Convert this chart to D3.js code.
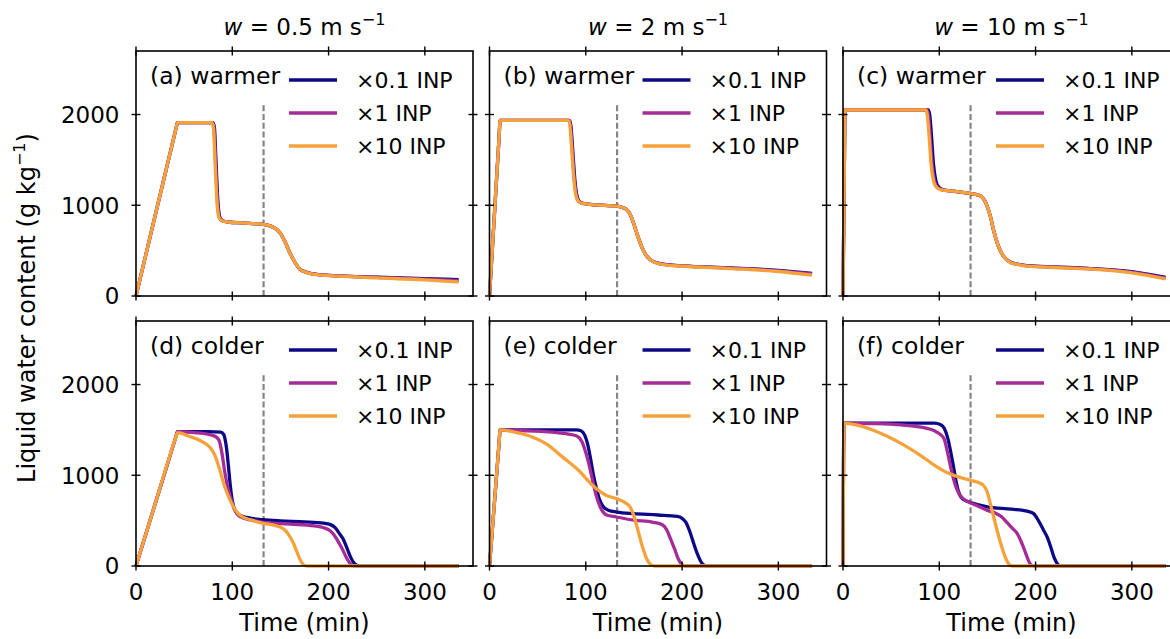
<!DOCTYPE html>
<html lang="en">
<head>
<title>Liquid water content vs time</title>
<meta charset="utf-8">
<script src="https://cdn.jsdelivr.net/npm/d3@7"></script>
<style type="text/css">
body {
	margin: 0;
	background: #fff;
	font-family: "DejaVu Sans", sans-serif;
}
</style>
</head>
<body>
<div id="vis"></div>
<script>

/* Data */
/* ==== */

var seriesNames = ['×0.1 INP', '×1 INP', '×10 INP'];
var seriesColors = ['#0d0887', '#a52c98', '#f6a23b'];
var columnSpeeds = ['0.5', '2', '10'];
var panelLabels = ['(a) warmer', '(b) warmer', '(c) warmer', '(d) colder', '(e) colder', '(f) colder'];
var xTicks = [0, 100, 200, 300];
var yTicks = [0, 1000, 2000];
var markerTime = 132.5;
var markerTop = 2120;

// (a) warmer, w = 0.5
var a01 = [[0,0],[20,890],[42,1866],[43,1910],[80,1910],[81.5,1850],[83,1500],[85,1050],[87,870],[90,830],[96,815],[110,805],[132,790],[140,770],[145,742],[150,690],[155,592],[160,472],[165,372],[170,298],[178,257],[190,235],[210,222],[250,208],[300,192],[335,180]];
var a1 = [[0,0],[20,890],[42,1866],[43,1910],[79.5,1910],[81,1850],[82.5,1500],[84.5,1050],[86.5,870],[89.5,830],[96,815],[110,805],[132,790],[140,770],[145,742],[150,690],[155,592],[160,472],[165,372],[170,298],[178,257],[190,235],[210,222],[250,206],[300,186],[335,170]];
var a10 = [[0,0],[20,890],[42,1866],[43,1910],[79,1910],[80.5,1850],[82,1500],[84,1050],[86,870],[89,830],[96,815],[110,805],[132,790],[140,770],[145,742],[150,690],[155,592],[160,472],[165,372],[170,298],[178,255],[190,232],[210,218],[250,200],[300,178],[335,155]];

// (b) warmer, w = 2
var b01 = [[0,0],[10,1760],[11,1935],[83,1935],[84.5,1880],[86.5,1600],[88.5,1300],[90.5,1120],[93,1045],[97,1020],[110,1005],[132,990],[138,975],[142,955],[146,900],[150,790],[154,660],[158,545],[162,460],[167,400],[175,362],[185,345],[200,333],[250,310],[300,282],[335,250]];
var b1 = [[0,0],[10,1760],[11,1935],[82.5,1935],[84,1880],[86,1600],[88,1300],[90,1120],[92.5,1045],[96.5,1020],[110,1005],[132,990],[138,975],[142,955],[146,900],[150,790],[154,660],[158,545],[162,460],[167,400],[175,360],[185,343],[200,331],[250,307],[300,278],[335,244]];
var b10 = [[0,0],[10,1760],[11,1935],[82,1935],[83.5,1880],[85.5,1600],[87.5,1300],[89.5,1120],[92,1045],[96,1020],[110,1005],[132,990],[138,975],[142,955],[146,900],[150,790],[154,660],[158,545],[162,460],[167,400],[175,358],[185,340],[200,328],[250,302],[300,270],[335,230]];

// (c) warmer, w = 10
var c01 = [[0,0],[1.5,1537],[2,2050],[88.5,2050],[90,2000],[92,1750],[94,1450],[96.5,1270],[99.5,1200],[104,1170],[115,1155],[132,1130],[140,1115],[145,1085],[149,1010],[153,880],[157,700],[161,560],[165,465],[174,372],[182,350],[191,335],[220,320],[254,305],[300,268],[335,205]];
var c1 = [[0,0],[1.5,1537],[2,2050],[87,2050],[88.5,2000],[90.5,1750],[92.5,1450],[95,1270],[98,1200],[103,1170],[115,1155],[132,1130],[140,1115],[145,1085],[149,1010],[153,880],[157,700],[161,560],[165,465],[174,370],[182,348],[191,333],[220,318],[254,303],[300,264],[335,198]];
var c10 = [[0,0],[1.5,1537],[2,2050],[86,2050],[87.5,2000],[89.5,1750],[91.5,1450],[94,1270],[97,1200],[102,1170],[115,1155],[132,1130],[140,1115],[145,1085],[149,1010],[153,880],[157,700],[161,560],[165,465],[174,368],[182,346],[191,330],[220,314],[254,298],[300,256],[335,188]];

// (d) colder, w = 0.5
var d01 = [[0,0],[20,688],[42,1445],[43,1480],[75,1480],[88,1475],[91,1450],[94,1300],[96,1100],[98,880],[100,720],[103,610],[107,565],[115,535],[132,510],[150,497],[175,487],[195,472],[202,456],[207,420],[211,362],[215,300],[219,200],[223,95],[227,25],[231,4],[235,0],[335,0]];
var d1 = [[0,0],[20,688],[42,1445],[43,1480],[60,1470],[75,1452],[82,1430],[86,1390],[89,1260],[92,1050],[95,880],[98,760],[102,630],[108,545],[120,505],[132,482],[160,462],[185,442],[195,422],[202,385],[207,322],[211,250],[215,170],[219,82],[223,20],[226,0],[335,0]];
var d10 = [[0,0],[20,688],[42,1440],[43,1470],[55,1430],[67,1380],[77,1305],[82,1220],[87,1060],[92,880],[98,720],[103,620],[108,560],[120,505],[132,470],[145,445],[153,410],[157,370],[160,320],[163.5,250],[167,160],[170,80],[173,25],[176,3],[178,0],[335,0]];

// (e) colder, w = 2
var e01 = [[0,0],[10,1364],[11,1500],[90,1500],[95,1490],[99,1440],[102,1340],[105,1180],[108,1000],[111,860],[114,740],[118,655],[124,612],[132,595],[150,577],[175,562],[195,546],[200,525],[204,480],[208,380],[212,250],[216,130],[220,40],[223,8],[226,0],[335,0]];
var e1 = [[0,0],[10,1364],[11,1500],[40,1490],[70,1470],[90,1435],[96,1370],[100,1250],[104,1090],[108,900],[111,770],[115,650],[121,565],[132,540],[150,505],[170,482],[180,452],[184,400],[188,300],[192.5,180],[196,80],[199.5,20],[203,0],[335,0]];
var e10 = [[0,0],[10,1364],[11,1500],[25,1478],[40,1438],[59,1345],[76,1200],[93,1050],[107,890],[121,780],[132,742],[142,690],[146,650],[149,580],[152.5,460],[156,320],[159.5,190],[163,85],[166.5,25],[170,3],[172,0],[335,0]];

// (f) colder, w = 10
var f01 = [[0,0],[1,1575],[95,1575],[101,1560],[105,1520],[109,1400],[112,1250],[115,1080],[118,900],[121,790],[125,732],[132,702],[150,652],[175,626],[192,602],[198,577],[203,500],[208,400],[212,320],[216,200],[219,100],[222,35],[225,5],[228,0],[335,0]];
var f1 = [[0,0],[1,1575],[30,1570],[60,1555],[85,1522],[95,1490],[101,1450],[105,1400],[108,1280],[111,1130],[114,990],[117,880],[121,790],[126,732],[132,700],[140,660],[150,613],[158,585],[165,540],[171,472],[176,415],[181,358],[185,270],[188,190],[191.5,90],[194,30],[197,3],[199,0],[335,0]];
var f10 = [[0,0],[1,1575],[15,1552],[30,1502],[46,1430],[62,1340],[80,1222],[95,1110],[108,1030],[120,982],[132,946],[140,922],[146,887],[150,810],[153,687],[156.5,540],[160,394],[163.5,260],[167,140],[170,60],[172.3,20],[175,2],[177,0],[335,0]];

var panelSeries = [
	[a01, a1, a10], [b01, b1, b10], [c01, c1, c10],
	[d01, d1, d10], [e01, e1, e10], [f01, f1, f10]
];


/* Globals and SVG */
/* =============== */

var width = 1170,
		height = 639;

var colX = [136, 489.5, 843],
		rowY = [51, 321],
		panelW = 337,
		panelH = 245,
		tickLen = 4.5;

var x = d3.scaleLinear().domain([0, 350]).range([0, panelW]);
var y = d3.scaleLinear().domain([0, 2700]).range([panelH, 0]);

var line = d3.line()
	.x(function(d) { return x(d[0]); })
	.y(function(d) { return y(d[1]); })
	.curve(d3.curveMonotoneX);

var svg = d3.select('#vis')
	.append('svg')
		.attr('width', width)
		.attr('height', height)
		.style('display', 'block');


/* Functions */
/* ========= */

function drawPanel(i) {

	var col = i % 3,
			row = Math.floor(i / 3);

	var g = svg.append('g')
		.attr('transform', 'translate(' + colX[col] + ', ' + rowY[row] + ')');

	// freezing marker
	g.append('line')
		.attr('x1', x(markerTime)).attr('x2', x(markerTime))
		.attr('y1', y(0)).attr('y2', y(markerTop))
		.attr('stroke', '#858585')
		.attr('stroke-width', 2.2)
		.attr('stroke-dasharray', '6,2.8');

	g.selectAll('.series')
		.data(panelSeries[i])
		.enter().append('path')
			.attr('class', 'series')
			.attr('d', line)
			.attr('fill', 'none')
			.attr('stroke', function(d, j) { return seriesColors[j]; })
			.attr('stroke-width', 3.3)
			.attr('stroke-linejoin', 'round');

	// frame
	g.append('rect')
		.attr('width', panelW).attr('height', panelH)
		.attr('fill', 'none')
		.attr('stroke', '#000')
		.attr('stroke-width', 1.6);

	// inout ticks on all four sides
	xTicks.forEach(function(t) {
		[0, panelH].forEach(function(yy) {
			g.append('line')
				.attr('x1', x(t)).attr('x2', x(t))
				.attr('y1', yy - tickLen).attr('y2', yy + tickLen)
				.attr('stroke', '#000').attr('stroke-width', 1.4);
		});
	});
	yTicks.forEach(function(t) {
		[0, panelW].forEach(function(xx) {
			g.append('line')
				.attr('x1', xx - tickLen).attr('x2', xx + tickLen)
				.attr('y1', y(t)).attr('y2', y(t))
				.attr('stroke', '#000').attr('stroke-width', 1.4);
		});
	});

	if (col === 0) {
		g.selectAll('.ytick')
			.data(yTicks)
			.enter().append('text')
				.attr('x', -16.5)
				.attr('y', function(d) { return y(d); })
				.attr('dy', '0.36em')
				.attr('text-anchor', 'end')
				.style('font-size', '23px')
				.text(function(d) { return d; });
	}

	if (row === 1) {
		g.selectAll('.xtick')
			.data(xTicks)
			.enter().append('text')
				.attr('x', function(d) { return x(d); })
				.attr('y', panelH + 34)
				.attr('text-anchor', 'middle')
				.style('font-size', '23px')
				.text(function(d) { return d; });

		g.append('text')
			.attr('x', panelW / 2)
			.attr('y', panelH + 65)
			.attr('text-anchor', 'middle')
			.style('font-size', '24px')
			.text('Time (min)');
	}

	g.append('text')
		.attr('x', 14)
		.attr('y', 32.5)
		.style('font-size', '23.5px')
		.text(panelLabels[i]);

	drawLegend(g);

} // drawPanel()

function drawLegend(g) {

	var items = g.selectAll('.legend')
		.data(seriesNames)
		.enter().append('g')
			.attr('transform', function(d, j) { return 'translate(0, ' + (29 + j * 33) + ')'; });

	items.append('line')
		.attr('x1', 153).attr('x2', 201)
		.attr('stroke', function(d, j) { return seriesColors[j]; })
		.attr('stroke-width', 3.6);

	items.append('text')
		.attr('x', 220)
		.attr('dy', '0.36em')
		.style('font-size', '22px')
		.text(function(d) { return d; });

} // drawLegend()

function drawTitles() {

	columnSpeeds.forEach(function(s, col) {

		var t = svg.append('text')
			.attr('x', colX[col] + panelW / 2)
			.attr('y', 35)
			.attr('text-anchor', 'middle')
			.style('font-size', '23px');

		t.append('tspan').style('font-style', 'italic').text('w');
		t.append('tspan').text(' = ' + s + ' m s');
		t.append('tspan').attr('dy', -10).style('font-size', '16px').text('−1');

	});

	var yl = svg.append('text')
		.attr('transform', 'translate(35, 308) rotate(-90)')
		.attr('text-anchor', 'middle')
		.style('font-size', '24px');

	yl.append('tspan').text('Liquid water content (g kg');
	yl.append('tspan').attr('dy', -10).style('font-size', '16px').text('−1');
	yl.append('tspan').attr('dy', 10).text(')');

} // drawTitles()


/* Build */
/* ===== */

d3.range(6).forEach(drawPanel);
drawTitles();

</script>
</body>
</html>
